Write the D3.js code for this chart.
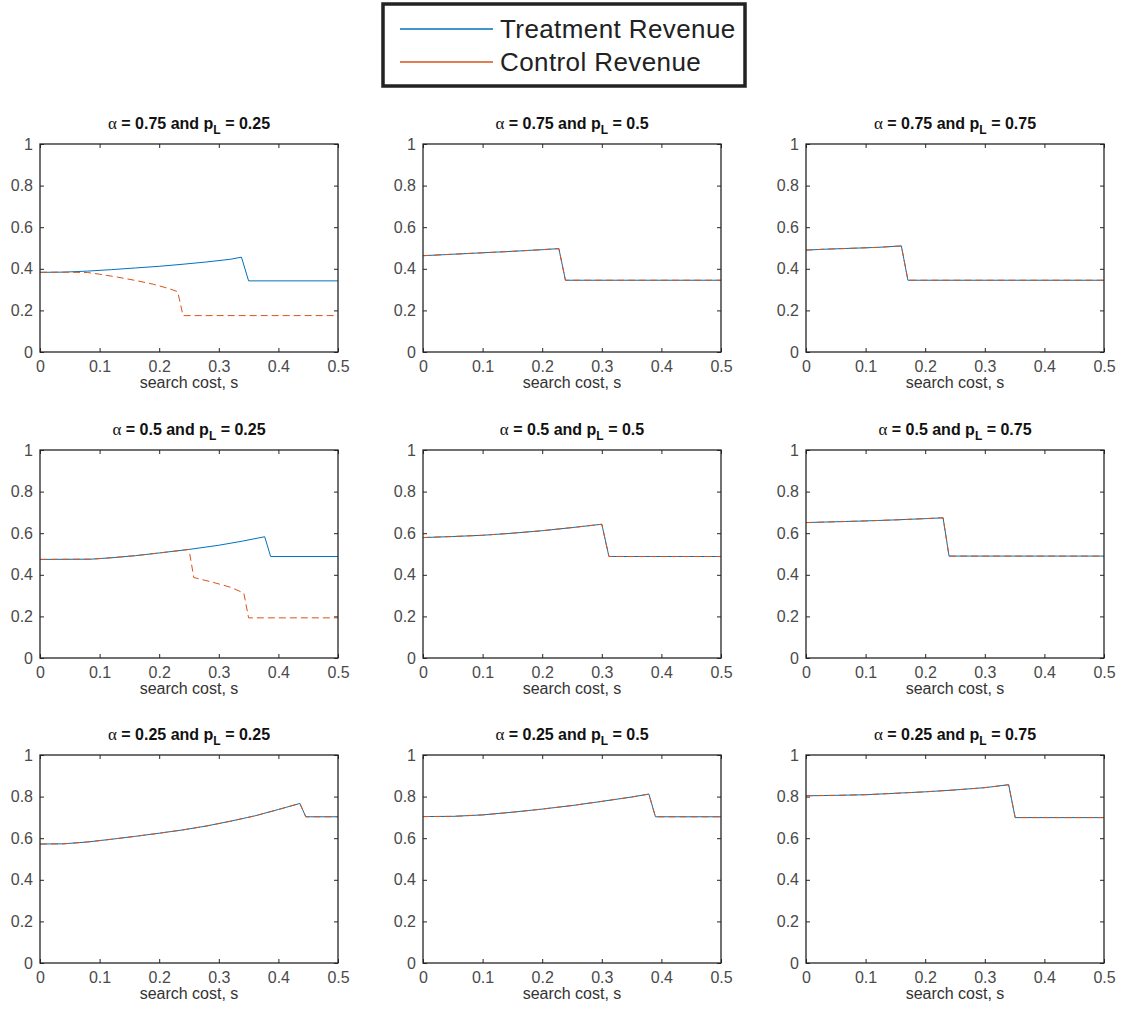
<!DOCTYPE html>
<html>
<head>
<meta charset="utf-8">
<script src="https://cdn.jsdelivr.net/npm/d3@7"></script>
<style>
  body { margin: 0; background: #fff; }
  svg { display: block; font-family: Arial, "Liberation Sans", Helvetica, sans-serif; }
</style>
</head>
<body>
<svg id="chart" width="1121" height="1010"></svg>
<script>
// alpha per row, p_L per column
const alphas = ["0.75", "0.5", "0.25"];
const pLs = ["0.25", "0.5", "0.75"];
const xTicks = [0, 0.1, 0.2, 0.3, 0.4, 0.5];
const yTicks = [0, 0.2, 0.4, 0.6, 0.8, 1];

// [search cost s, revenue]
const treatA75P25 = [[0,0.383],[0.04,0.384],[0.08,0.389],[0.12,0.396],[0.16,0.404],[0.2,0.412],[0.24,0.422],[0.28,0.433],[0.32,0.446],[0.338,0.456],[0.35,0.342],[0.5,0.342]];
const ctrlA75P25  = [[0,0.383],[0.04,0.384],[0.08,0.382],[0.1,0.374],[0.13,0.36],[0.16,0.344],[0.19,0.326],[0.215,0.306],[0.231,0.29],[0.24,0.175],[0.5,0.175]];
const bothA75P50  = [[0,0.463],[0.05,0.47],[0.1,0.477],[0.15,0.484],[0.2,0.492],[0.228,0.497],[0.239,0.345],[0.5,0.345]];
const bothA75P75  = [[0,0.49],[0.03,0.494],[0.08,0.499],[0.12,0.503],[0.16,0.51],[0.171,0.345],[0.5,0.345]];

const treatA50P25 = [[0,0.474],[0.085,0.475],[0.12,0.482],[0.16,0.492],[0.2,0.505],[0.25,0.522],[0.3,0.542],[0.34,0.562],[0.377,0.583],[0.387,0.488],[0.5,0.488]];
const ctrlA50P25  = [[0,0.474],[0.085,0.475],[0.12,0.482],[0.16,0.492],[0.2,0.505],[0.25,0.522],[0.258,0.387],[0.29,0.364],[0.32,0.34],[0.342,0.312],[0.35,0.193],[0.5,0.193]];
const bothA50P50  = [[0,0.579],[0.05,0.584],[0.1,0.59],[0.15,0.6],[0.2,0.612],[0.25,0.627],[0.3,0.643],[0.312,0.488],[0.5,0.488]];
const bothA50P75  = [[0,0.651],[0.05,0.655],[0.1,0.659],[0.15,0.664],[0.2,0.67],[0.23,0.674],[0.24,0.49],[0.5,0.49]];

const bothA25P25  = [[0,0.572],[0.04,0.573],[0.08,0.582],[0.12,0.595],[0.16,0.609],[0.2,0.624],[0.24,0.64],[0.28,0.659],[0.32,0.682],[0.36,0.707],[0.4,0.738],[0.436,0.767],[0.446,0.703],[0.5,0.703]];
const bothA25P50  = [[0,0.704],[0.05,0.705],[0.1,0.712],[0.15,0.725],[0.2,0.74],[0.25,0.757],[0.3,0.777],[0.35,0.798],[0.379,0.812],[0.39,0.703],[0.5,0.703]];
const bothA25P75  = [[0,0.804],[0.05,0.806],[0.1,0.809],[0.15,0.816],[0.2,0.823],[0.25,0.832],[0.3,0.843],[0.34,0.857],[0.351,0.699],[0.5,0.699]];

const treatment = [
  [treatA75P25, bothA75P50, bothA75P75],
  [treatA50P25, bothA50P50, bothA50P75],
  [bothA25P25, bothA25P50, bothA25P75]
];
const control = [
  [ctrlA75P25, bothA75P50, bothA75P75],
  [ctrlA50P25, bothA50P50, bothA50P75],
  [bothA25P25, bothA25P50, bothA25P75]
];

const seriesNames = ["Treatment Revenue", "Control Revenue"];
const blue = "#0072BD", orange = "#D95319";

const svg = d3.select("#chart");
const colLeft = [40, 423, 806];
const rowTop = [144, 450, 755];
const w = 298, h = 208;

const x = d3.scaleLinear().domain([0, 0.5]).range([0, w]);
const y = d3.scaleLinear().domain([0, 1]).range([h, 0]);
const line = d3.line().x((d) => x(d[0])).y((d) => y(d[1]));
const fmt = d3.format("~g");

alphas.forEach((a, r) => {
  pLs.forEach((p, c) => {
    const g = svg.append("g").attr("transform", `translate(${colLeft[c]},${rowTop[r]})`);

    // mirrored inward ticks, MATLAB box style
    g.append("g")
      .attr("transform", `translate(0,${h})`)
      .call(d3.axisBottom(x).tickValues(xTicks).tickFormat(fmt).tickSize(-4).tickPadding(9))
      .call((s) => s.select(".domain").remove());
    g.append("g")
      .call(d3.axisTop(x).tickValues(xTicks).tickFormat("").tickSize(-4))
      .call((s) => s.select(".domain").remove());
    g.append("g")
      .call(d3.axisLeft(y).tickValues(yTicks).tickFormat(fmt).tickSize(-4).tickPadding(7))
      .call((s) => s.select(".domain").remove());
    g.append("g")
      .attr("transform", `translate(${w},0)`)
      .call(d3.axisRight(y).tickValues(yTicks).tickFormat("").tickSize(-4))
      .call((s) => s.select(".domain").remove());

    g.selectAll("g").attr("font-family", null).attr("font-size", null);
    g.selectAll(".tick line").attr("stroke", "#262626");
    g.selectAll(".tick text").attr("fill", "#4a4a4a").attr("font-size", 16);

    g.append("path").datum(treatment[r][c])
      .attr("fill", "none").attr("stroke", blue).attr("stroke-width", 1).attr("d", line);
    g.append("path").datum(control[r][c])
      .attr("fill", "none").attr("stroke", orange).attr("stroke-width", 1)
      .attr("stroke-dasharray", "7,4").attr("d", line);

    g.append("rect").attr("width", w).attr("height", h)
      .attr("fill", "none").attr("stroke", "#262626").attr("stroke-width", 1.3);

    const t = g.append("text")
      .attr("x", w / 2).attr("y", -15)
      .attr("text-anchor", "middle")
      .attr("font-size", 16).attr("font-weight", "bold").attr("fill", "#111");
    t.append("tspan").attr("font-family", "'Liberation Serif', 'DejaVu Serif', serif")
      .attr("font-weight", "normal").attr("font-size", 17).text("α");
    t.append("tspan").text(` = ${a} and p`);
    t.append("tspan").attr("font-size", 12).attr("dy", 5).text("L");
    t.append("tspan").attr("dy", -5).text(` = ${p}`);

    g.append("text")
      .attr("x", w / 2).attr("y", h + 36)
      .attr("text-anchor", "middle")
      .attr("font-size", 16).attr("fill", "#333")
      .text("search cost, s");
  });
});

// legend
const lg = svg.append("g").attr("transform", "translate(383,4)");
lg.append("rect").attr("width", 362).attr("height", 82)
  .attr("fill", "#fff").attr("stroke", "#222").attr("stroke-width", 3.5);
const items = lg.selectAll(".item").data(seriesNames).enter().append("g")
  .attr("transform", (d, i) => `translate(0,${25 + i * 33})`);
items.append("line").attr("x1", 17).attr("x2", 110)
  .attr("stroke", (d, i) => (i === 0 ? blue : orange)).attr("stroke-width", 1.5);
items.append("text").attr("x", 117).attr("y", 9)
  .attr("font-size", 26).attr("letter-spacing", 0.4).attr("fill", "#222").text((d) => d);
</script>
</body>
</html>
